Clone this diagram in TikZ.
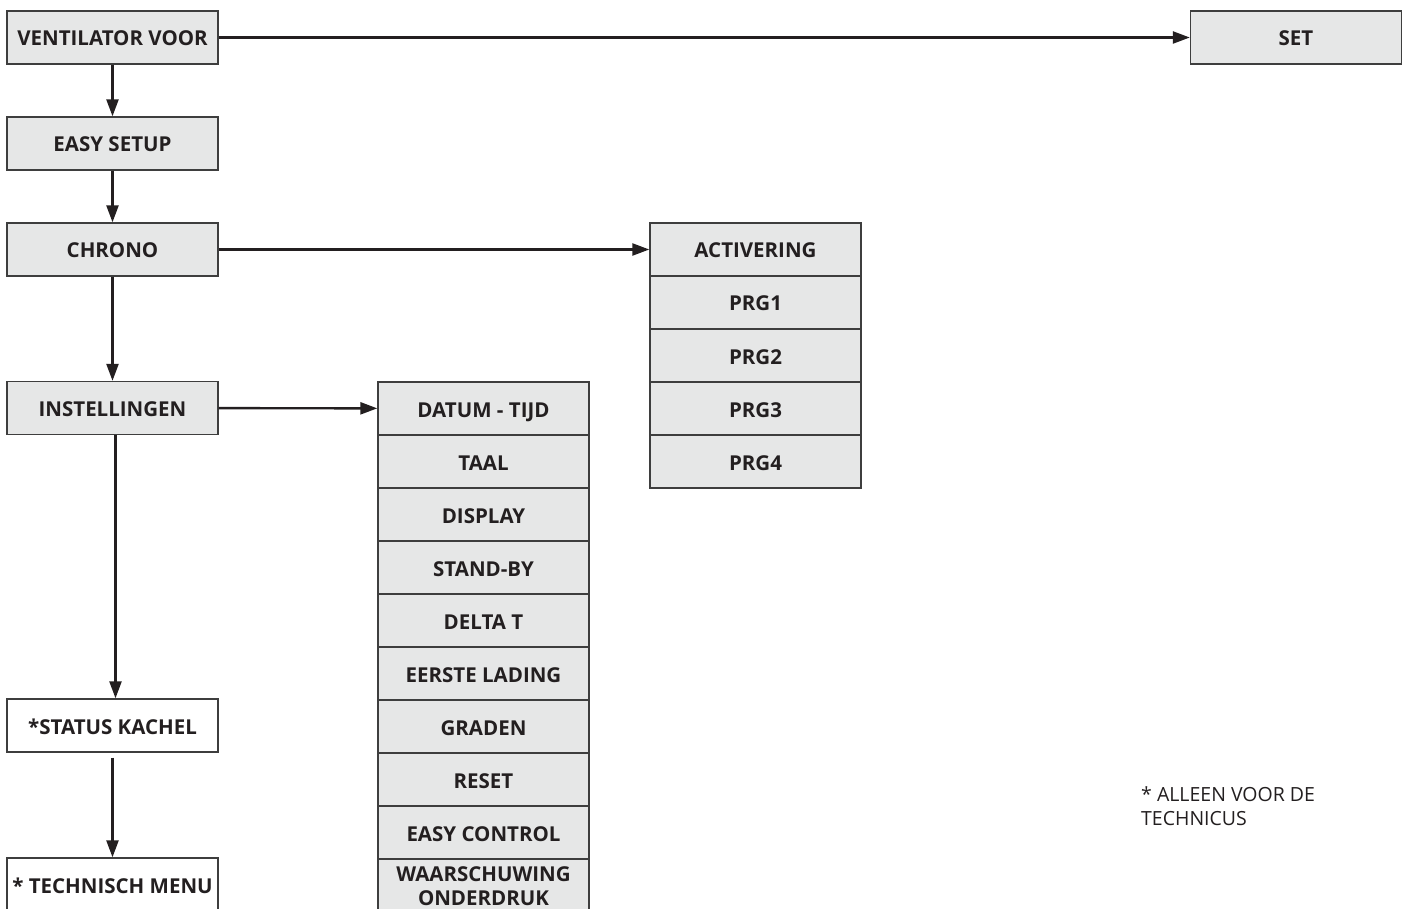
\documentclass[tikz,border=0pt]{standalone}
\usepackage{fontspec}
\setmainfont{Open Sans}
\usetikzlibrary{arrows.meta}
\definecolor{boxgrey}{HTML}{E6E7E7}
\definecolor{edgegrey}{HTML}{3E3E3E}
\definecolor{ink}{HTML}{231F20}
\begin{document}
\begin{tikzpicture}[x=1pt,y=-1pt,
  basecell/.style={draw=edgegrey, fill=boxgrey, line width=1.4pt, minimum width=211pt, minimum height=53pt, inner sep=0pt, text=ink, font=\fontsize{20.5}{23.5}\selectfont\bfseries, align=center},
  cell/.style={basecell, text height=18pt, text depth=1pt},
  whitecell/.style={cell, fill=white},
  arr/.style={draw=ink, line width=2.4pt, -{Triangle[length=17pt,width=12pt]}}]
\clip (0,0) rectangle (1408,909);
\fill[white] (0,0) rectangle (1408,909);
% left column
\node[cell] (vent) at (112.5,37.5) {VENTILATOR VOOR};
\node[cell] (easy) at (112.5,143.5) {EASY SETUP};
\node[cell] (chrono) at (112.5,249.5) {CHRONO};
\node[cell] (inst) at (112.5,408) {INSTELLINGEN};
\node[whitecell] (status) at (112.5,725.5) {*STATUS KACHEL};
\node[whitecell] (tech) at (112.5,884.5) {* TECHNISCH MENU};
% set
\node[cell] (set) at (1296,37.5) {SET};
% chrono column
\node[cell] (act) at (755.5,249.5) {ACTIVERING};
\node[cell] (prg1) at (755.5,302.5) {PRG1};
\node[cell] (prg2) at (755.5,355.5) {PRG2};
\node[cell] (prg3) at (755.5,408.5) {PRG3};
\node[cell] (prg4) at (755.5,461.5) {PRG4};
% instellingen column
\node[cell] (datum) at (483.5,408.5) {DATUM - TIJD};
\node[cell] (taal) at (483.5,461.5) {TAAL};
\node[cell] (display) at (483.5,514.5) {DISPLAY};
\node[cell] (standby) at (483.5,567.5) {STAND-BY};
\node[cell] (delta) at (483.5,620.5) {DELTA T};
\node[cell] (eerste) at (483.5,673.5) {EERSTE LADING};
\node[cell] (graden) at (483.5,726.5) {GRADEN};
\node[cell] (reset) at (483.5,779.5) {RESET};
\node[cell] (easyc) at (483.5,832.5) {EASY CONTROL};
\node[basecell] (waarsch) at (483.5,886) {WAARSCHUWING\\ONDERDRUK};
% note
\node[anchor=north west, align=left, inner sep=0pt, text=ink, font=\fontsize{19.5}{24}\selectfont] (note) at (1141,786) {* ALLEEN VOOR DE\\TECHNICUS};
% arrows
\draw[arr] (vent) -- (set);
\draw[arr] (vent) -- (easy);
\draw[arr] (easy) -- (chrono);
\draw[arr] (chrono) -- (inst);
\draw[arr] (chrono) -- (act);
\draw[arr] (inst) -- (datum);
\draw[arr] ([xshift=3pt]inst.south) -- ([xshift=3pt]status.north);
\draw[arr] ([yshift=-5pt]status.south) -- (tech.north);
\end{tikzpicture}
\end{document}
